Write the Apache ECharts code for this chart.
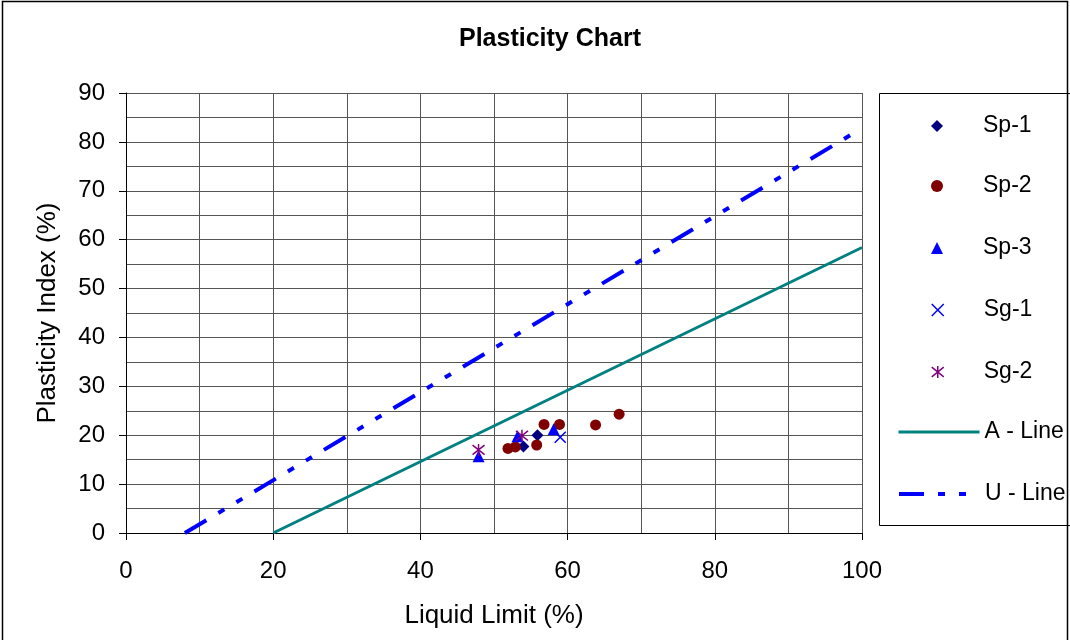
<!DOCTYPE html>
<html><head><meta charset="utf-8">
<script src="https://cdn.jsdelivr.net/npm/echarts@6/dist/echarts.min.js"></script>
<style>html,body{margin:0;padding:0;background:#fff}#c{width:1070px;height:640px}</style>
</head><body><div id="c"></div><script>
// ---- data ----
const sp1LL = [54.0, 55.9];
const sp1PI = [17.7, 20.0];
const sp2LL = [51.9, 52.9, 55.8, 56.8, 58.9, 63.8, 67.0];
const sp2PI = [17.3, 17.6, 18.0, 22.2, 22.2, 22.1, 24.3];
const sp3LL = [47.9, 53.2, 58.1];
const sp3PI = [15.7, 19.8, 21.2];
const sg1LL = [59.0];
const sg1PI = [19.6];
const sg2LL = [47.9, 53.8];
const sg2PI = [17.0, 19.9];
const aLineLL = [20, 100];
const aLinePI = [0, 58.4];
const uLineLL = [8, 100];
const uLinePI = [0, 82.8];
const seriesNames = ['Sp-1', 'Sp-2', 'Sp-3', 'Sg-1', 'Sg-2', 'A - Line', 'U - Line'];
const xTicks = [0, 20, 40, 60, 80, 100];
const yTicks = [0, 10, 20, 30, 40, 50, 60, 70, 80, 90];

const zip = (a, b) => a.map((v, i) => [v, b[i]]);
const FONT = 'Liberation Sans, Arial, sans-serif';

const xPath = 'path://M0,0 L10,10 M10,0 L0,10';
const starPath = 'path://M0,1 L10,9 M10,1 L0,9 M5,0 L5,10';

const chart = echarts.init(document.getElementById('c'), null, {renderer: 'canvas'});

const legendRowsY = [126, 186, 248, 310, 372, 432, 494];
const legends = seriesNames.map((name, i) => {
  const isLine = i >= 5;
  const base = {
    data: [isLine ? {name: name, itemStyle: {opacity: 0}, lineStyle: {width: 'inherit'}} : {name: name, itemStyle: i >= 3 ? {borderWidth: 1.5} : {}}],
    orient: 'vertical',
    padding: 0,
    selectedMode: false,
    top: legendRowsY[i] - 12,
    itemHeight: 12,
    textStyle: {fontFamily: FONT, fontSize: 23, color: '#000', lineHeight: 24}
  };
  if (isLine) {
    base.left = 897; base.itemWidth = 81;
  } else {
    base.left = 931; base.itemWidth = 12;
    base.textStyle.padding = [0, 0, 0, 35];
  }
  return base;
});

const option = {
  animation: false,
  backgroundColor: '#fff',
  title: {
    text: 'Plasticity Chart',
    left: 454, top: 22,
    textStyle: {fontFamily: FONT, fontSize: 25, fontWeight: 'bold', color: '#000'}
  },
  legend: legends,
  grid: {left: 126, right: 208, top: 93, bottom: 107, containLabel: false},
  xAxis: {
    type: 'value', min: xTicks[0], max: xTicks[xTicks.length - 1], interval: 20,
    name: 'Liquid Limit (%)', nameLocation: 'middle', nameGap: 70,
    nameTextStyle: {fontFamily: FONT, fontSize: 26, color: '#000'},
    axisLine: {show: true, onZero: false, lineStyle: {color: '#000', width: 1}},
    axisTick: {show: true, length: 7, lineStyle: {color: '#000'}},
    axisLabel: {fontFamily: FONT, fontSize: 24, color: '#000', margin: 26},
    splitLine: {show: true, lineStyle: {color: '#555', width: 1}},
    minorTick: {show: false, splitNumber: 2},
    minorSplitLine: {show: true, lineStyle: {color: '#555', width: 1}}
  },
  yAxis: {
    type: 'value', min: yTicks[0], max: yTicks[yTicks.length - 1], interval: 10,
    name: 'Plasticity Index (%)', nameLocation: 'middle', nameGap: 65,
    nameTextStyle: {fontFamily: FONT, fontSize: 26, color: '#000'},
    axisLine: {show: true, onZero: false, lineStyle: {color: '#000', width: 1}},
    axisTick: {show: true, length: 7, lineStyle: {color: '#000'}},
    axisLabel: {fontFamily: FONT, fontSize: 24, color: '#000', margin: 21},
    splitLine: {show: true, lineStyle: {color: '#555', width: 1}},
    minorTick: {show: false, splitNumber: 2},
    minorSplitLine: {show: true, lineStyle: {color: '#555', width: 1}}
  },
  series: [
    {name: 'A - Line', type: 'line', data: zip(aLineLL, aLinePI), symbol: 'none', z: 2,
     lineStyle: {color: '#008080', width: 3}, itemStyle: {color: '#008080'}},
    {name: 'U - Line', type: 'line', data: zip(uLineLL, uLinePI), symbol: 'none', z: 2,
     lineStyle: {color: '#0000FF', width: 4, type: [25, 14, 7, 14, 7, 14], cap: 'butt'}, itemStyle: {color: '#0000FF'}},
    {name: 'Sp-1', type: 'scatter', data: zip(sp1LL, sp1PI), symbol: 'diamond', symbolSize: 12, z: 3,
     itemStyle: {color: '#000080', opacity: 1}},
    {name: 'Sp-2', type: 'scatter', data: zip(sp2LL, sp2PI), symbol: 'circle', symbolSize: 11, z: 3,
     itemStyle: {color: '#800000', opacity: 1}},
    {name: 'Sp-3', type: 'scatter', data: zip(sp3LL, sp3PI), symbol: 'triangle', symbolSize: 12, z: 3,
     itemStyle: {color: '#0000FF', opacity: 1}},
    {name: 'Sg-1', type: 'scatter', data: zip(sg1LL, sg1PI), symbol: xPath, symbolSize: 11, z: 3,
     itemStyle: {color: '#0000FF', borderColor: '#0000FF', borderWidth: 1.5, opacity: 1}},
    {name: 'Sg-2', type: 'scatter', data: zip(sg2LL, sg2PI), symbol: starPath, symbolSize: 12, z: 3,
     itemStyle: {color: '#800080', borderColor: '#800080', borderWidth: 1.5, opacity: 1}}
  ],
  graphic: [
    {type: 'rect', shape: {x: 2.5, y: 1.5, width: 1065, height: 660}, style: {fill: 'none', stroke: '#000', lineWidth: 1.5}, silent: true, z: 0},
    {type: 'rect', shape: {x: 879.5, y: 93.5, width: 200, height: 432}, style: {fill: 'none', stroke: '#000', lineWidth: 1}, silent: true, z: 0}
  ]
};
chart.setOption(option);
</script></body></html>
